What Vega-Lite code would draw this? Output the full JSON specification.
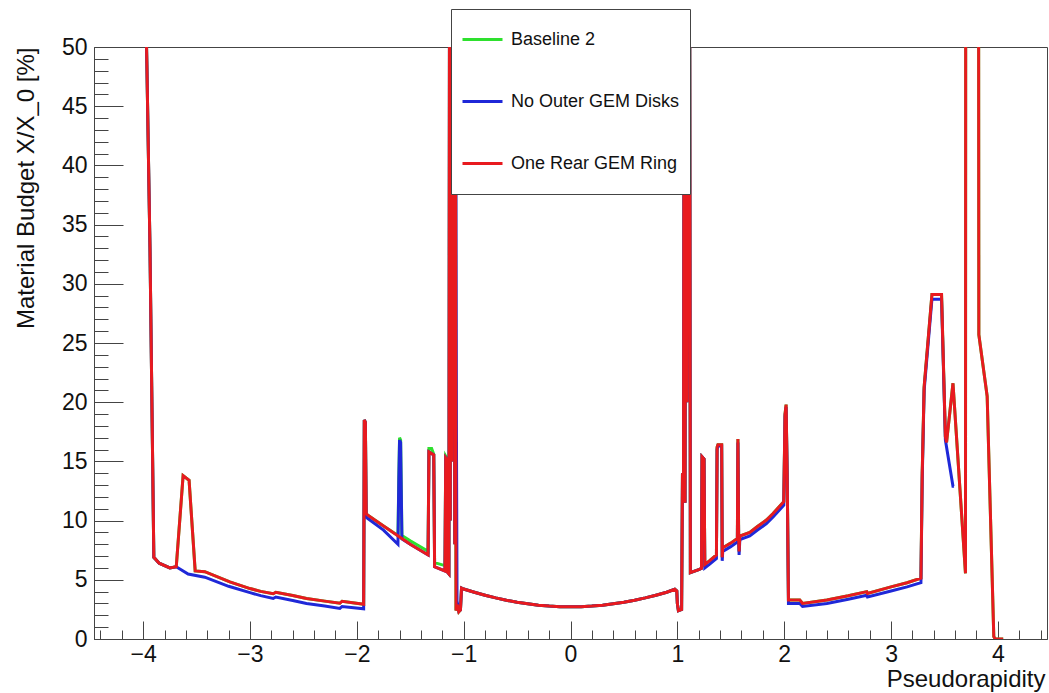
{
"$schema": "https://vega.github.io/schema/vega-lite/v6.json",
"width": 953, "height": 592,
"autosize": {"type": "none"},
"padding": {"left": 94, "top": 47, "right": 2, "bottom": 54},
"background": "white",
"config": {
  "font": "Liberation Sans",
  "view": {"stroke": "#444", "strokeWidth": 1},
  "axis": {"labelFont": "Liberation Sans", "labelFontSize": 23, "labelColor": "#111", "titleFont": "Liberation Sans", "titleFontSize": 24, "titleFontWeight": "normal", "titleColor": "#111", "domainColor": "#444", "tickColor": "#444", "grid": false, "labelFlush": false, "labelOverlap": false, "labelBound": false},
  "legend": {"orient": "none", "legendX": 357, "legendY": -38, "title": null, "symbolType": "stroke", "symbolSize": 1600, "symbolStrokeWidth": 3, "labelFont": "Liberation Sans", "labelFontSize": 18, "labelColor": "#111", "labelOffset": 7, "labelLimit": 0, "padding": 10, "rowPadding": 21, "clipHeight": 41, "strokeColor": "#444", "fillColor": "white"}
},
"datasets": {
"g": [
{"x":-3.99,"y":60},{"x":-3.965,"y":48.5},{"x":-3.936,"y":33},{"x":-3.92,"y":21.4},{"x":-3.9,"y":6.9},{"x":-3.85,"y":6.4},{"x":-3.75,"y":6.0},{"x":-3.69,"y":6.1},{"x":-3.626,"y":13.8},{"x":-3.57,"y":13.4},{"x":-3.513,"y":5.75},{"x":-3.423,"y":5.69},{"x":-3.189,"y":4.82},{"x":-3.0,"y":4.26},{"x":-2.9,"y":4.02},{"x":-2.783,"y":3.82},{"x":-2.758,"y":3.95},{"x":-2.6,"y":3.68},{"x":-2.471,"y":3.42},{"x":-2.3,"y":3.2},{"x":-2.159,"y":3.02},{"x":-2.138,"y":3.19},{"x":-1.936,"y":2.93},{"x":-1.93,"y":18.5},{"x":-1.92,"y":18.3},{"x":-1.912,"y":10.6},{"x":-1.9,"y":10.48},
{"x":-1.75,"y":9.55},{"x":-1.615,"y":8.75},{"x":-1.607,"y":13.5},{"x":-1.6,"y":17.0},{"x":-1.59,"y":16.8},{"x":-1.578,"y":8.75},{"x":-1.5,"y":8.3},{"x":-1.333,"y":7.4},{"x":-1.325,"y":16.1},{"x":-1.3,"y":16.1},{"x":-1.28,"y":15.6},{"x":-1.272,"y":6.45},{"x":-1.175,"y":6.2},{"x":-1.168,"y":15.45},{"x":-1.152,"y":15.2},{"x":-1.147,"y":5.6},
{"x":-1.138,"y":5.5},{"x":-1.132,"y":60},{"x":-1.126,"y":10},{"x":-1.12,"y":60},{"x":-1.113,"y":15},{"x":-1.105,"y":60},{"x":-1.097,"y":20},{"x":-1.09,"y":60},{"x":-1.083,"y":8},{"x":-1.077,"y":60},{"x":-1.072,"y":2.4},{"x":-1.06,"y":2.9},{"x":-1.045,"y":2.3},{"x":-1.03,"y":2.45},{"x":-1.02,"y":4.3},{"x":-1.0,"y":4.22},{"x":-0.9,"y":3.95},{"x":-0.8,"y":3.7},{"x":-0.7,"y":3.47},{"x":-0.6,"y":3.27},{"x":-0.5,"y":3.1},{"x":-0.4,"y":2.97},{"x":-0.3,"y":2.86},{"x":-0.2,"y":2.78},{"x":-0.1,"y":2.73},{"x":0,"y":2.72},{"x":0.1,"y":2.73},{"x":0.2,"y":2.78},{"x":0.3,"y":2.86},{"x":0.4,"y":2.97},{"x":0.5,"y":3.1},{"x":0.6,"y":3.27},{"x":0.7,"y":3.47},{"x":0.8,"y":3.7},{"x":0.9,"y":3.95},{"x":0.976,"y":4.2},{"x":0.995,"y":4.05},{"x":1.0,"y":3.0},{"x":1.01,"y":2.4},{"x":1.04,"y":2.5},{"x":1.048,"y":13.9},{"x":1.058,"y":14.0},{"x":1.064,"y":60},{"x":1.072,"y":11.5},{"x":1.08,"y":60},{"x":1.09,"y":20},{"x":1.098,"y":60},{"x":1.108,"y":30},{"x":1.115,"y":60},{"x":1.122,"y":5.6},{"x":1.2,"y":5.85},{"x":1.226,"y":5.97},{"x":1.231,"y":15.4},{"x":1.25,"y":15.2},{"x":1.257,"y":6.3},{"x":1.3,"y":6.6},{"x":1.366,"y":7.1},{"x":1.372,"y":16.2},{"x":1.38,"y":16.4},{"x":1.415,"y":16.4},{"x":1.42,"y":6.9},{"x":1.425,"y":7.7},{"x":1.5,"y":8.1},{"x":1.562,"y":8.5},{"x":1.567,"y":16.9},{"x":1.574,"y":8.6},{"x":1.578,"y":7.4},{"x":1.585,"y":8.7},{"x":1.678,"y":9.0},{"x":1.75,"y":9.5},{"x":1.834,"y":10.05},{"x":1.896,"y":10.6},{"x":1.996,"y":11.6},{"x":2.008,"y":19.0},{"x":2.018,"y":19.8},{"x":2.028,"y":14},{"x":2.04,"y":3.3},{"x":2.146,"y":3.3},{"x":2.172,"y":3.0},{"x":2.4,"y":3.3},{"x":2.6,"y":3.65},{"x":2.773,"y":4.0},{"x":2.78,"y":3.85},{"x":3.0,"y":4.4},{"x":3.15,"y":4.75},{"x":3.28,"y":5.13},{"x":3.292,"y":14},{"x":3.31,"y":21.3},{"x":3.383,"y":29.1},{"x":3.473,"y":29.1},{"x":3.509,"y":17.1},{"x":3.52,"y":16.6},{"x":3.58,"y":21.6},{"x":3.697,"y":5.55},{"x":3.7,"y":80},{"x":3.818,"y":80},{"x":3.822,"y":25.7},{"x":3.9,"y":20.5},{"x":3.962,"y":0.2},{"x":3.975,"y":0},{"x":4.05,"y":0}
],
"b": [
{"x":-3.99,"y":60},{"x":-3.965,"y":48.5},{"x":-3.936,"y":33},{"x":-3.92,"y":21.4},{"x":-3.9,"y":6.9},{"x":-3.85,"y":6.4},{"x":-3.75,"y":6.0},{"x":-3.69,"y":6.1},{"x":-3.579,"y":5.49},{"x":-3.423,"y":5.22},{"x":-3.2,"y":4.45},{"x":-3.0,"y":3.92},{"x":-2.9,"y":3.66},{"x":-2.783,"y":3.42},{"x":-2.758,"y":3.55},{"x":-2.6,"y":3.25},{"x":-2.471,"y":3.0},{"x":-2.3,"y":2.78},{"x":-2.159,"y":2.58},{"x":-2.138,"y":2.75},{"x":-1.936,"y":2.55},{"x":-1.93,"y":18.5},{"x":-1.92,"y":18.3},{"x":-1.912,"y":10.3},{"x":-1.9,"y":10.2},{"x":-1.75,"y":9.2},{"x":-1.615,"y":8.0},{"x":-1.607,"y":13.5},{"x":-1.6,"y":16.8},{"x":-1.59,"y":16.6},{"x":-1.578,"y":8.45},{"x":-1.5,"y":8.0},{"x":-1.333,"y":7.1},{"x":-1.325,"y":15.8},{"x":-1.28,"y":15.55},{"x":-1.272,"y":6.1},{"x":-1.175,"y":5.75},{"x":-1.168,"y":15.3},{"x":-1.152,"y":15.1},{"x":-1.147,"y":5.6},{"x":-1.138,"y":5.5},{"x":-1.132,"y":60},{"x":-1.126,"y":10},{"x":-1.12,"y":60},{"x":-1.113,"y":15},{"x":-1.105,"y":60},{"x":-1.097,"y":20},{"x":-1.09,"y":60},{"x":-1.083,"y":8},{"x":-1.077,"y":60},{"x":-1.068,"y":18.5},{"x":-1.062,"y":3.2},{"x":-1.045,"y":2.35},{"x":-1.03,"y":2.45},{"x":-1.02,"y":4.3},{"x":-1.0,"y":4.22},{"x":-0.9,"y":3.95},{"x":-0.8,"y":3.7},{"x":-0.7,"y":3.47},{"x":-0.6,"y":3.27},{"x":-0.5,"y":3.1},{"x":-0.4,"y":2.97},{"x":-0.3,"y":2.86},{"x":-0.2,"y":2.78},{"x":-0.1,"y":2.73},{"x":0,"y":2.72},{"x":0.1,"y":2.73},{"x":0.2,"y":2.78},{"x":0.3,"y":2.86},{"x":0.4,"y":2.97},{"x":0.5,"y":3.1},{"x":0.6,"y":3.27},{"x":0.7,"y":3.47},{"x":0.8,"y":3.7},{"x":0.9,"y":3.95},{"x":0.976,"y":4.2},{"x":0.995,"y":4.05},{"x":1.0,"y":3.0},{"x":1.01,"y":2.4},{"x":1.04,"y":2.5},{"x":1.048,"y":13.9},{"x":1.058,"y":14.0},{"x":1.064,"y":60},{"x":1.072,"y":11.5},{"x":1.08,"y":60},{"x":1.09,"y":20},{"x":1.098,"y":60},{"x":1.108,"y":30},{"x":1.115,"y":60},{"x":1.122,"y":5.6},{"x":1.2,"y":5.85},{"x":1.226,"y":5.97},{"x":1.231,"y":15.4},{"x":1.25,"y":15.2},{"x":1.257,"y":6.0},{"x":1.3,"y":6.3},{"x":1.366,"y":6.8},{"x":1.372,"y":16.0},{"x":1.38,"y":16.3},{"x":1.415,"y":16.3},{"x":1.42,"y":6.6},{"x":1.425,"y":7.4},{"x":1.5,"y":7.8},{"x":1.562,"y":8.2},{"x":1.567,"y":16.6},{"x":1.574,"y":8.3},{"x":1.578,"y":7.1},{"x":1.585,"y":8.4},{"x":1.678,"y":8.7},{"x":1.75,"y":9.2},{"x":1.834,"y":9.75},{"x":1.896,"y":10.3},{"x":1.996,"y":11.3},{"x":2.008,"y":18.8},{"x":2.018,"y":19.6},{"x":2.028,"y":14},{"x":2.04,"y":3.0},{"x":2.146,"y":3.0},{"x":2.172,"y":2.75},{"x":2.4,"y":3.0},{"x":2.6,"y":3.35},{"x":2.773,"y":3.7},{"x":2.78,"y":3.55},{"x":3.0,"y":4.05},{"x":3.15,"y":4.4},{"x":3.28,"y":4.76},{"x":3.292,"y":13.5},{"x":3.31,"y":21},{"x":3.383,"y":28.7},{"x":3.473,"y":28.7},{"x":3.509,"y":16.8},{"x":3.58,"y":12.9},{"x":3.59,"y":12.9}
],
"r": [
{"x":-3.99,"y":60},{"x":-3.965,"y":48.5},{"x":-3.936,"y":33},{"x":-3.92,"y":21.4},{"x":-3.9,"y":6.9},{"x":-3.85,"y":6.4},{"x":-3.75,"y":6.0},{"x":-3.69,"y":6.1},{"x":-3.626,"y":13.8},{"x":-3.57,"y":13.4},{"x":-3.513,"y":5.75},{"x":-3.423,"y":5.69},{"x":-3.189,"y":4.82},{"x":-3.0,"y":4.26},{"x":-2.9,"y":4.02},{"x":-2.783,"y":3.82},{"x":-2.758,"y":3.95},{"x":-2.6,"y":3.68},{"x":-2.471,"y":3.42},{"x":-2.3,"y":3.2},{"x":-2.159,"y":3.02},{"x":-2.138,"y":3.19},{"x":-1.936,"y":2.93},{"x":-1.93,"y":18.5},{"x":-1.92,"y":18.3},{"x":-1.912,"y":10.6},{"x":-1.9,"y":10.48},{"x":-1.75,"y":9.55},{"x":-1.613,"y":8.7},{"x":-1.5,"y":8.0},{"x":-1.333,"y":7.1},{"x":-1.325,"y":15.8},{"x":-1.28,"y":15.55},{"x":-1.272,"y":6.1},{"x":-1.175,"y":5.75},{"x":-1.168,"y":15.3},{"x":-1.152,"y":15.1},{"x":-1.147,"y":5.6},{"x":-1.138,"y":5.5},{"x":-1.132,"y":60},{"x":-1.126,"y":10},{"x":-1.12,"y":60},{"x":-1.113,"y":15},{"x":-1.105,"y":60},{"x":-1.097,"y":20},{"x":-1.09,"y":60},{"x":-1.083,"y":8},{"x":-1.077,"y":60},{"x":-1.072,"y":2.4},{"x":-1.06,"y":2.9},{"x":-1.045,"y":2.3},{"x":-1.03,"y":2.45},{"x":-1.02,"y":4.3},{"x":-1.0,"y":4.22},{"x":-0.9,"y":3.95},{"x":-0.8,"y":3.7},{"x":-0.7,"y":3.47},{"x":-0.6,"y":3.27},{"x":-0.5,"y":3.1},{"x":-0.4,"y":2.97},{"x":-0.3,"y":2.86},{"x":-0.2,"y":2.78},{"x":-0.1,"y":2.73},{"x":0,"y":2.72},{"x":0.1,"y":2.73},{"x":0.2,"y":2.78},{"x":0.3,"y":2.86},{"x":0.4,"y":2.97},{"x":0.5,"y":3.1},{"x":0.6,"y":3.27},{"x":0.7,"y":3.47},{"x":0.8,"y":3.7},{"x":0.9,"y":3.95},{"x":0.976,"y":4.2},{"x":0.995,"y":4.05},{"x":1.0,"y":3.0},{"x":1.01,"y":2.4},{"x":1.04,"y":2.5},{"x":1.048,"y":13.9},{"x":1.058,"y":14.0},{"x":1.064,"y":60},{"x":1.072,"y":11.5},{"x":1.08,"y":60},{"x":1.09,"y":20},{"x":1.098,"y":60},{"x":1.108,"y":30},{"x":1.115,"y":60},{"x":1.122,"y":5.6},{"x":1.2,"y":5.85},{"x":1.226,"y":5.97},{"x":1.231,"y":15.4},{"x":1.25,"y":15.2},{"x":1.257,"y":6.3},{"x":1.3,"y":6.6},{"x":1.366,"y":7.1},{"x":1.372,"y":16.2},{"x":1.38,"y":16.4},{"x":1.415,"y":16.4},{"x":1.42,"y":6.9},{"x":1.425,"y":7.7},{"x":1.5,"y":8.1},{"x":1.562,"y":8.5},{"x":1.567,"y":16.9},{"x":1.574,"y":8.6},{"x":1.578,"y":7.4},{"x":1.585,"y":8.7},{"x":1.678,"y":9.0},{"x":1.75,"y":9.5},{"x":1.834,"y":10.05},{"x":1.896,"y":10.6},{"x":1.996,"y":11.6},{"x":2.008,"y":19.0},{"x":2.018,"y":19.8},{"x":2.028,"y":14},{"x":2.04,"y":3.3},{"x":2.146,"y":3.3},{"x":2.172,"y":3.0},{"x":2.4,"y":3.3},{"x":2.6,"y":3.65},{"x":2.773,"y":4.0},{"x":2.78,"y":3.85},{"x":3.0,"y":4.4},{"x":3.15,"y":4.75},{"x":3.28,"y":5.13},{"x":3.292,"y":14},{"x":3.31,"y":21.3},{"x":3.383,"y":29.1},{"x":3.473,"y":29.1},{"x":3.509,"y":17.1},{"x":3.52,"y":16.6},{"x":3.58,"y":21.6},{"x":3.697,"y":5.55},{"x":3.7,"y":80},{"x":3.818,"y":80},{"x":3.822,"y":25.7},{"x":3.9,"y":20.5},{"x":3.962,"y":0.2},{"x":3.975,"y":0},{"x":4.05,"y":0}
]
},
"layer": [
 {
  "data": {"name": "g"},
  "mark": {"type": "line", "clip": true, "strokeWidth": 3},
  "encoding": {
   "x": {"field": "x", "type": "quantitative", "scale": {"domain": [-4.46, 4.46], "nice": false, "zero": false},
     "axis": {"orient": "bottom", "values": [-4,-3,-2,-1,0,1,2,3,4], "format": "d", "tickSize": -18, "labelPadding": 22, "title": "Pseudorapidity", "titleAnchor": "end", "titleAlign": "right", "titleX": 951, "titleY": 47, "titleBaseline": "alphabetic"}},
   "y": {"field": "y", "type": "quantitative", "scale": {"domain": [0, 50], "nice": false, "zero": false},
     "axis": {"orient": "left", "values": [0,5,10,15,20,25,30,35,40,45,50], "tickSize": -29, "labelPadding": 36, "title": "Material Budget X/X_0 [%]", "titleAngle": -90, "titleX": -61, "titleY": 0, "titleAlign": "right", "titleBaseline": "alphabetic"}},
   "color": {"datum": "Baseline 2", "type": "nominal",
     "scale": {"domain": ["Baseline 2", "No Outer GEM Disks", "One Rear GEM Ring"], "range": ["#2ee02e", "#1f28d8", "#e81a1f"]}}
  }
 },
 {
  "data": {"name": "b"},
  "mark": {"type": "line", "clip": true, "strokeWidth": 3},
  "encoding": {
   "x": {"field": "x", "type": "quantitative", "scale": {"domain": [-4.46, 4.46], "nice": false, "zero": false},
     "axis": {"orient": "bottom", "values": [-4.4,-4.2,-3.8,-3.6,-3.4,-3.2,-2.8,-2.6,-2.4,-2.2,-1.8,-1.6,-1.4,-1.2,-0.8,-0.6,-0.4,-0.2,0.2,0.4,0.6,0.8,1.2,1.4,1.6,1.8,2.2,2.4,2.6,2.8,3.2,3.4,3.6,3.8,4.2,4.4], "tickSize": -9, "labels": false, "domain": false, "title": null}},
   "y": {"field": "y", "type": "quantitative", "scale": {"domain": [0, 50], "nice": false, "zero": false},
     "axis": {"orient": "left", "values": [1,2,3,4,6,7,8,9,11,12,13,14,16,17,18,19,21,22,23,24,26,27,28,29,31,32,33,34,36,37,38,39,41,42,43,44,46,47,48,49], "tickSize": -14, "labels": false, "domain": false, "title": null}},
   "color": {"datum": "No Outer GEM Disks", "type": "nominal",
     "scale": {"domain": ["Baseline 2", "No Outer GEM Disks", "One Rear GEM Ring"], "range": ["#2ee02e", "#1f28d8", "#e81a1f"]}}
  }
 },
 {
  "data": {"name": "r"},
  "mark": {"type": "line", "clip": true, "strokeWidth": 3},
  "encoding": {
   "x": {"field": "x", "type": "quantitative", "scale": {"domain": [-4.46, 4.46], "nice": false, "zero": false}, "axis": null},
   "y": {"field": "y", "type": "quantitative", "scale": {"domain": [0, 50], "nice": false, "zero": false}, "axis": null},
   "color": {"datum": "One Rear GEM Ring", "type": "nominal",
     "scale": {"domain": ["Baseline 2", "No Outer GEM Disks", "One Rear GEM Ring"], "range": ["#2ee02e", "#1f28d8", "#e81a1f"]}}
  }
 }
],
"resolve": {"axis": {"x": "independent", "y": "independent"}}
}
